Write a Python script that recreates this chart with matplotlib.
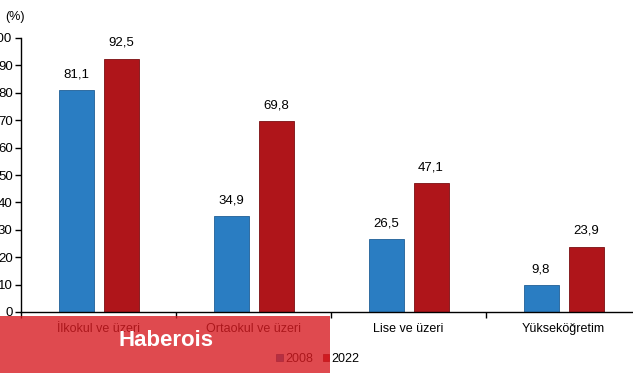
import matplotlib
matplotlib.use("Agg")
import matplotlib.pyplot as plt
import numpy as np
from matplotlib.patches import Rectangle

categories = ["İlkokul ve üzeri", "Ortaokul ve üzeri", "Lise ve üzeri", "Yükseköğretim"]
series_names = ["2008", "2022"]
values_2008 = [81.1, 34.9, 26.5, 9.8]
values_2022 = [92.5, 69.8, 47.1, 23.9]
yticks = [0, 10, 20, 30, 40, 50, 60, 70, 80, 90, 100]

plt.rcParams['font.family'] = ['Liberation Sans', 'DejaVu Sans']

W, H = 633, 375
fig = plt.figure(figsize=(W/100, H/100), dpi=100)
x0, x1 = 21, 641
y0, y1 = 312, 38
ax = fig.add_axes([x0/W, 1 - y0/H, (x1-x0)/W, (y0-y1)/H])

blue = "#2A7DC2"
red = "#AF151A"
x = np.arange(len(categories))
bw = 35/155
off = 22.5/155
b1 = ax.bar(x - off, values_2008, bw, color=blue, edgecolor="#1F5F96", linewidth=0.6, label=series_names[0])
b2 = ax.bar(x + off, values_2022, bw, color=red, edgecolor="#7A0E12", linewidth=0.6, label=series_names[1])

for bars, vals in ((b1, values_2008), (b2, values_2022)):
    for b, v in zip(bars, vals):
        ax.text(b.get_x() + b.get_width()/2, v + 3.5, f"{v:.1f}".replace(".", ","),
                ha="center", va="bottom", fontsize=9.5)

ax.set_xlim(-0.5, 3.5)
ax.set_ylim(0, 100)
ax.set_yticks(yticks)
ax.set_yticklabels([str(t) for t in yticks], fontsize=9.5)
ax.set_xticks(np.arange(len(categories) + 1) - 0.5)
ax.set_xticklabels([])
ax.set_xticks(x, minor=True)
ax.set_xticklabels(categories, minor=True, fontsize=9)
ax.tick_params(axis="x", which="minor", length=0, pad=8)
ax.tick_params(axis="x", which="major", length=4, direction="out", width=1)
ax.tick_params(axis="y", length=4, direction="out", width=1, pad=2)
for s in ("top", "right"):
    ax.spines[s].set_visible(False)
ax.spines["left"].set_linewidth(1)
ax.spines["bottom"].set_linewidth(1)

fig.text(5/W, 1 - 17/H, "(%)", fontsize=9, va="center", ha="left")

leg = fig.legend(handles=[b1, b2], labels=series_names, loc="center",
                 bbox_to_anchor=(318/W, 1 - 359/H), ncol=2, frameon=False,
                 fontsize=9, handlelength=0.5, handleheight=0.5, handletextpad=0.2,
                 columnspacing=0.8)

# watermark banner (semi-transparent, labels show through)
fig.patches.append(Rectangle((0, 1 - 373/H), 330/W, (373-316)/H, transform=fig.transFigure,
                             facecolor="#D81D23", alpha=0.8, zorder=10))
fig.text(166/W, 1 - 340/H, "Haberois", color="white", fontsize=16, fontweight="bold",
         ha="center", va="center", zorder=11)

fig.savefig("out.png", dpi=100)
